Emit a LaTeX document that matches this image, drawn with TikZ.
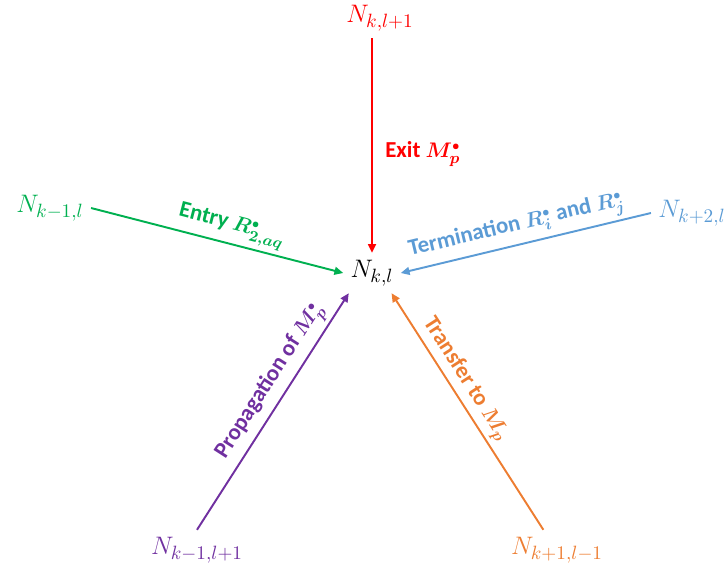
\documentclass[tikz,border=0pt]{standalone}
\usepackage{amsmath}
\usepackage{fontspec}
\newfontfamily\labelfont{Carlito}
\usepackage{tikz}
\usetikzlibrary{arrows.meta,positioning}
\definecolor{exitred}{RGB}{255,0,0}
\definecolor{entrygreen}{RGB}{0,176,80}
\definecolor{termblue}{RGB}{91,155,213}
\definecolor{proppurple}{RGB}{112,48,160}
\definecolor{transorange}{RGB}{237,125,49}
\newcommand{\dotsup}{{\scriptscriptstyle\bullet}}

\begin{document}
\begin{tikzpicture}[
    x=0.02cm, y=-0.02cm,
    nd/.style={inner sep=4pt, font=\fontsize{15}{18}\selectfont},
    lbl/.style={inner sep=2pt, font=\fontsize{13}{15}\selectfont\labelfont\bfseries\boldmath},
    arrow/.style={-{Triangle[length=5pt,width=4.5pt]}, line width=1.1pt}
]
    \useasboundingbox (0,0) rectangle (726,569);

    \node[nd] (nkl) at (372,273) {$N_{k,l}$};
    \node[nd, text=exitred] (nklp1) at (380,18) {$N_{k,l+1}$};
    \node[nd, text=entrygreen] (nkm1l) at (50,208) {$N_{k-1,l}$};
    \node[nd, text=termblue] (nkp2l) at (692,213) {$N_{k+2,l}$};
    \node[nd, text=proppurple] (nkm1lp1) at (197,550) {$N_{k-1,l+1}$};
    \node[nd, text=transorange] (nkp1lm1) at (557,550) {$N_{k+1,l-1}$};

    \draw[arrow, exitred] (nklp1.south -| nkl.north) -- node[lbl, pos=0.54, right=5pt] {Exit $M_p^\dotsup$} (nkl.north);
    \draw[arrow, entrygreen] (nkm1l.east) -- node[lbl, pos=0.54, sloped, above] {Entry $R_{2,aq}^\dotsup$} (nkl.west);
    \draw[arrow, termblue] (nkp2l.west) -- node[lbl, pos=0.52, sloped, above] {Termination $R_i^\dotsup$ and $R_j^\dotsup$} (nkl.east);
    \draw[arrow, proppurple] (nkm1lp1.north) -- node[lbl, pos=0.585, sloped, above] {Propagation of $M_p^\dotsup$} (nkl.-139);
    \draw[arrow, transorange] (nkp1lm1.124) -- node[lbl, pos=0.6, sloped, above] {Transfer to $M_p$} (nkl.-46);
\end{tikzpicture}
\end{document}
